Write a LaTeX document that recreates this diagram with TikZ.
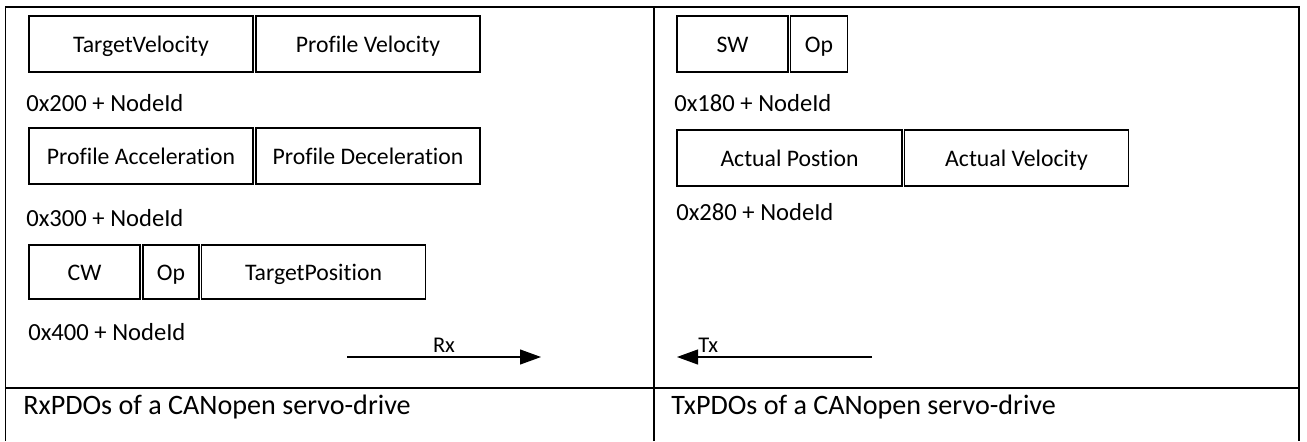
\documentclass[tikz,border=0pt]{standalone}
\usepackage{fontspec}
\setmainfont{Carlito}[Ligatures=NoCommon]
\usetikzlibrary{positioning,arrows.meta}

\begin{document}
\begin{tikzpicture}[
    field/.style={draw,line width=0.6pt,minimum height=1.12cm,inner sep=0pt,outer sep=0pt,
        text height=0.96em,text depth=0pt,font=\fontsize{13.5}{16}\selectfont},
    cobid/.style={anchor=west,inner sep=0pt,font=\fontsize{14}{17}\selectfont},
    caption/.style={anchor=west,inner sep=0pt,font=\fontsize{16}{19}\selectfont},
    dirlabel/.style={above,inner sep=2pt,font=\fontsize{12.8}{15}\selectfont},
    flow/.style={line width=0.6pt,-{Triangle[length=0.42cm,width=0.3cm]}},
    frame/.style={line width=1.1pt}]
                \useasboundingbox (0,0) rectangle (26.14,8.82);
                % table lines
                \draw[frame] (0.11,0) -- (0.11,8.68) -- (25.98,8.68) -- (25.98,0);
                \draw[frame] (13.08,0) -- (13.08,8.68);
                \draw[frame] (0.11,1.06) -- (25.98,1.06);
                % RxPDOs
                \node[field,minimum width=4.48cm] (tv) at (2.82,7.94) {TargetVelocity};
                \node[field,minimum width=4.48cm,right=0.06cm of tv] (pv) {Profile Velocity};
                \node[cobid] (id200) at (0.52,6.76) {0x200 + NodeId};
                \node[field,minimum width=4.48cm] (pa) at (2.82,5.70) {Profile Acceleration};
                \node[field,minimum width=4.48cm,right=0.06cm of pa] (pd) {Profile Deceleration};
                \node[cobid] (id300) at (0.52,4.46) {0x300 + NodeId};
                \node[field,minimum width=2.22cm,minimum height=1.08cm] (cw) at (1.69,3.38) {CW};
                \node[field,minimum width=1.12cm,minimum height=1.08cm,right=0.06cm of cw] (op) {Op};
                \node[field,minimum width=4.48cm,minimum height=1.08cm,right=0.05cm of op] (tp) {TargetPosition};
                \node[cobid] (id400) at (0.56,2.18) {0x400 + NodeId};
                % TxPDOs
                \node[field,minimum width=2.22cm] (sw) at (14.65,7.94) {SW};
                \node[field,minimum width=1.14cm,right=0.05cm of sw] (op2) {Op};
                \node[cobid] (id180) at (13.48,6.76) {0x180 + NodeId};
                \node[field,minimum width=4.5cm] (ap) at (15.79,5.66) {Actual Postion};
                \node[field,minimum width=4.48cm,right=0.05cm of ap] (av) {Actual Velocity};
                \node[cobid] (id280) at (13.52,4.58) {0x280 + NodeId};
                % direction arrows
                \coordinate (rxa) at (6.94,1.68);
                \coordinate (rxb) at (10.82,1.68);
                \draw[flow] (rxa) -- node[dirlabel] (rxl) {Rx} (rxb);
                \coordinate (txa) at (17.44,1.68);
                \coordinate (txb) at (13.54,1.68);
                \draw[flow] (txa) -- node[dirlabel,pos=0.84] (txl) {Tx} (txb);
                % captions
                \node[caption] (rxcap) at (0.46,0.68) {RxPDOs of a CANopen servo-drive};
                \node[caption] (txcap) at (13.42,0.68) {TxPDOs of a CANopen servo-drive};
            \end{tikzpicture}
\end{document}
